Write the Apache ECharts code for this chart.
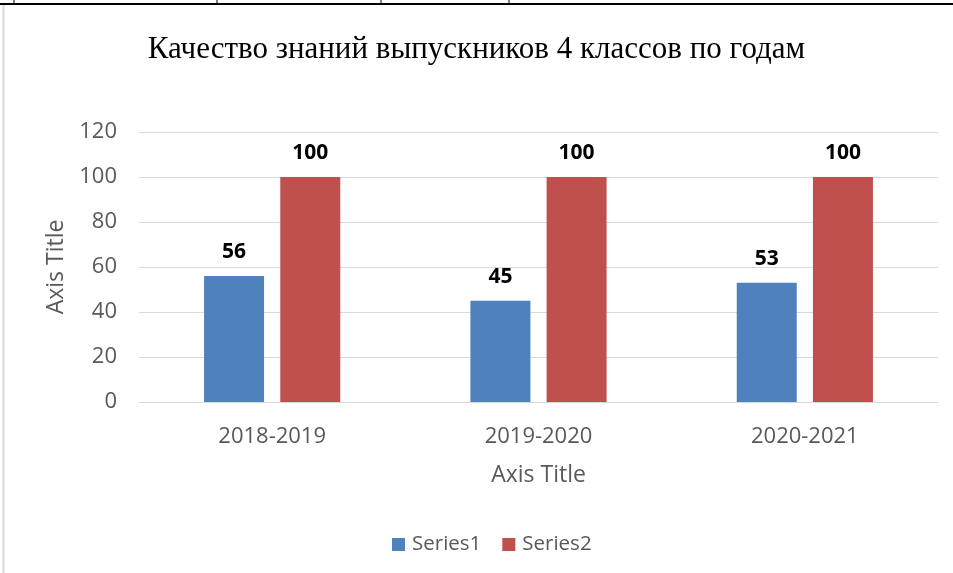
<!DOCTYPE html>
<html>
<head>
    <meta charset="utf-8" />
    <title>Качество знаний</title>
    <script src="https://cdn.jsdelivr.net/npm/echarts@6/dist/echarts.min.js"></script>
    <style>
        html, body { margin: 0; padding: 0; background: #ffffff; }
        #main { width: 953px; height: 573px; }
    </style>
</head>
<body>
<div id="main"></div>
<script type="text/javascript">
    // данные графика
    var years = ['2018-2019', '2019-2020', '2020-2021'];
    var series1 = [56, 45, 53];
    var series2 = [100, 100, 100];
    var yTicks = { min: 0, max: 120, step: 20 };

    var labelFont = 'Open Sans';
    var myChart = echarts.init(document.getElementById('main'));

    var option = {
        backgroundColor: '#ffffff',
        animation: false,
        title: {
            text: 'Качество знаний выпускников 4 классов по годам',
            left: 'center',
            top: 29,
            textStyle: {
                fontFamily: 'Liberation Serif',
                fontSize: 31,
                fontWeight: 'normal',
                color: '#000000'
            }
        },
        // рамка таблицы сверху и слева
        graphic: [
            { type: 'line', shape: { x1: 0, y1: 4, x2: 953, y2: 4 }, style: { stroke: '#000', lineWidth: 2 } },
            { type: 'line', shape: { x1: 14, y1: 0, x2: 14, y2: 4 }, style: { stroke: '#000', lineWidth: 1 } },
            { type: 'line', shape: { x1: 217, y1: 0, x2: 217, y2: 4 }, style: { stroke: '#000', lineWidth: 1 } },
            { type: 'line', shape: { x1: 381, y1: 0, x2: 381, y2: 4 }, style: { stroke: '#000', lineWidth: 1 } },
            { type: 'line', shape: { x1: 509, y1: 0, x2: 509, y2: 4 }, style: { stroke: '#000', lineWidth: 1 } },
            { type: 'line', shape: { x1: 3.5, y1: 5, x2: 3.5, y2: 573 }, style: { stroke: '#d9d9d9', lineWidth: 2 } }
        ],
        legend: {
            bottom: 13,
            left: 387,
            itemWidth: 13,
            itemHeight: 13,
            itemGap: 21,
            icon: 'rect',
            textStyle: { fontFamily: labelFont, fontSize: 20.5, color: '#595959', padding: [0, 0, 0, 2] },
            data: ['Series1', 'Series2']
        },
        grid: {
            left: 139,
            right: 15,
            top: 132,
            bottom: 171
        },
        xAxis: {
            type: 'category',
            data: years,
            name: 'Axis Title',
            nameLocation: 'middle',
            nameGap: 62,
            nameTextStyle: { fontFamily: labelFont, fontSize: 23, color: '#595959' },
            axisLine: { lineStyle: { color: '#d9d9d9', width: 1 } },
            axisTick: { show: false },
            axisLabel: { fontFamily: labelFont, fontSize: 22, color: '#595959', margin: 24 }
        },
        yAxis: {
            type: 'value',
            min: yTicks.min,
            max: yTicks.max,
            interval: yTicks.step,
            name: 'Axis Title',
            nameLocation: 'middle',
            nameGap: 70,
            nameTextStyle: { fontFamily: labelFont, fontSize: 23, color: '#595959' },
            axisLine: { show: false },
            axisTick: { show: false },
            splitLine: { lineStyle: { color: '#d9d9d9', width: 1 } },
            axisLabel: { fontFamily: labelFont, fontSize: 22, color: '#595959', margin: 22 }
        },
        series: [
            {
                name: 'Series1',
                type: 'bar',
                data: series1,
                barWidth: 60,
                barGap: '27%',
                itemStyle: { color: '#4f81bd' },
                label: {
                    show: true,
                    position: 'top',
                    distance: 13,
                    fontFamily: labelFont,
                    fontSize: 21,
                    fontWeight: 'bold',
                    color: '#000000'
                }
            },
            {
                name: 'Series2',
                type: 'bar',
                data: series2,
                barWidth: 60,
                itemStyle: { color: '#c0504d' },
                label: {
                    show: true,
                    position: 'top',
                    distance: 13,
                    fontFamily: labelFont,
                    fontSize: 21,
                    fontWeight: 'bold',
                    color: '#000000'
                }
            }
        ]
    };
    myChart.setOption(option);
</script>
</body>
</html>
